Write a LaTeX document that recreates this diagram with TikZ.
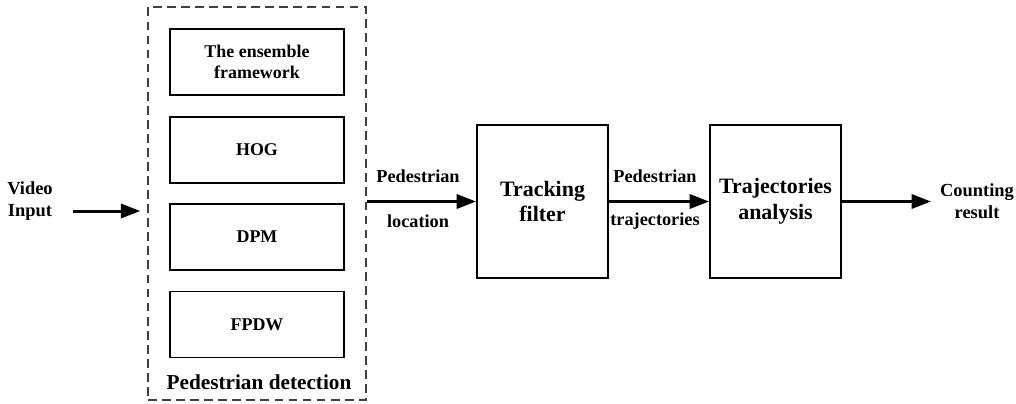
\documentclass[tikz,border=0pt]{standalone}
\usepackage{fontspec}
\setmainfont{Liberation Serif}
\usepackage{tikz}
\usetikzlibrary{arrows.meta,positioning,calc}
\tikzset{
  methodbox/.style={rectangle, draw=black, line width=1.1pt, minimum width=3.48cm,
    minimum height=1.32cm, align=center, font=\bfseries\fontsize{10.2}{12}\selectfont, inner sep=2pt},
  stagebox/.style={rectangle, draw=black, line width=1.1pt, minimum width=2.62cm,
    minimum height=3.06cm, align=center, font=\bfseries\fontsize{12.5}{14.7}\selectfont, inner sep=2pt},
  groupbox/.style={rectangle, draw=black!75, line width=0.8pt, dash pattern=on 5pt off 3pt,
    minimum width=4.36cm, minimum height=7.86cm, inner sep=0pt},
  flowlabel/.style={align=center, font=\bfseries\fontsize{10.4}{12.5}\selectfont, inner sep=1pt},
  endlabel/.style={align=center, font=\bfseries\fontsize{10.5}{12.5}\selectfont, inner sep=1pt},
  flowarrow/.style={-{Triangle[length=11pt,width=8pt]}, draw=black, line width=1.7pt},
}
\begin{document}
\begin{tikzpicture}[x=0.02cm, y=-0.02cm]
  \useasboundingbox (0,0) rectangle (1016,403);

  % Detection methods (vertical stack inside the dashed group)
  \node[groupbox] (detgroup) at (257,203.5) {};
  \node[methodbox] (ensemble) at (257,62) {The ensemble\\framework};
  \node[methodbox] (hog) at (257,150) {HOG};
  \node[methodbox] (dpm) at (257,237) {DPM};
  \node[methodbox] (fpdw) at (257,324.5) {FPDW};
  \node[font=\bfseries\fontsize{12.1}{14}\selectfont] (detlabel) at (259,382) {Pedestrian detection};

  % Input
  \node[endlabel] (video) at (30,201) {Video\\Input};
  \coordinate (vidstart) at (73,211);
  \draw[flowarrow, shorten >=4] (vidstart) -- (vidstart -| detgroup.west);

  % Tracking and analysis stages
  \node[stagebox] (track) at (542.5,201.5) {Tracking\\filter};
  \node[stagebox] (traj) at (775.5,201.5) {Trajectories\\analysis};

  \draw[flowarrow] (detgroup.east |- track.west) -- (track.west);
  \node[flowlabel] (locup) at (418,176) {Pedestrian};
  \node[flowlabel] (locdown) at (418,221) {location};

  \draw[flowarrow] (track.east) -- (traj.west);
  \node[flowlabel] (trajup) at (655,176) {Pedestrian};
  \node[flowlabel] (trajdown) at (655,221) {trajectories};

  % Output
  \node[endlabel] (count) at (977,201) {Counting\\result};
  \coordinate (countend) at (931,201.5);
  \draw[flowarrow] (traj.east) -- (countend);
\end{tikzpicture}
\end{document}
